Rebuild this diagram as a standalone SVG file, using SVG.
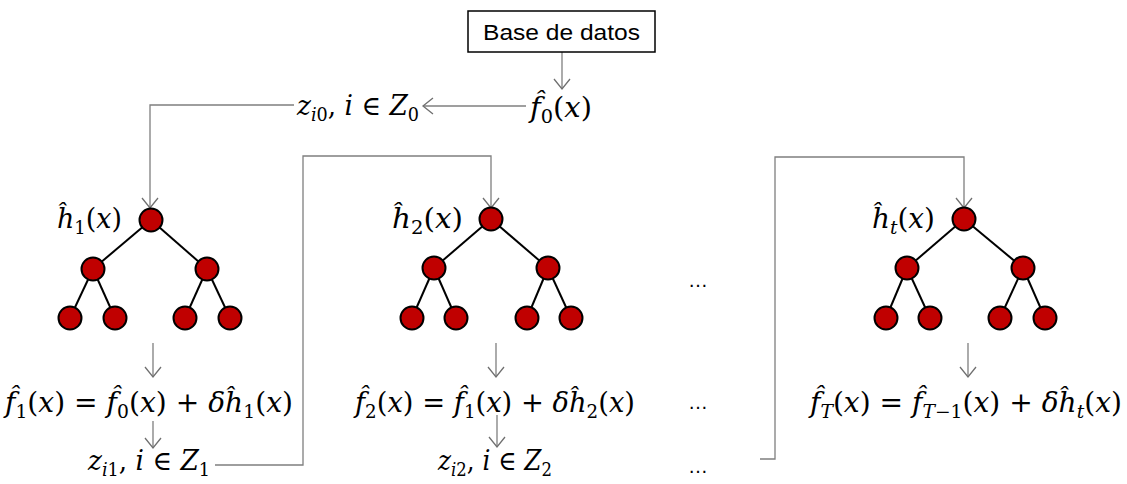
<svg xmlns="http://www.w3.org/2000/svg" width="1127" height="484" viewBox="0 0 1127 484">
<style>
.bg{fill:#ffffff}
.box{fill:#ffffff;stroke:#000000;stroke-width:1.5}
.lbl{font-family:"Liberation Sans",Arial,sans-serif;font-size:22px;fill:#000}
.m{font-family:"DejaVu Serif","Liberation Serif",serif;font-size:27px;fill:#000}
.i{font-style:italic}
.s{font-size:18px}
.dots{font-family:"Liberation Sans",Arial,sans-serif;font-size:20px;fill:#000}
.con{fill:none;stroke:#7f7f7f;stroke-width:1.3}
.edge{stroke:#000;stroke-width:2}
.nd{fill:#c00000;stroke:#000;stroke-width:2}
</style>
<defs>
<marker id="arr" markerUnits="userSpaceOnUse" markerWidth="14" markerHeight="20" refX="12" refY="10" orient="auto" viewBox="0 0 14 20">
<path d="M2,2 L12,10 L2,18" fill="none" stroke="#6f6f6f" stroke-width="1.3"/>
</marker>
</defs>
<rect class="bg" x="0" y="0" width="1127" height="484"/>

<g id="connectors">
<line class="con" x1="562" y1="52" x2="562" y2="89" marker-end="url(#arr)"/>
<line class="con" x1="526" y1="106" x2="423" y2="106" marker-end="url(#arr)"/>
<polyline class="con" points="294,105 150,105 150,208" marker-end="url(#arr)"/>
<line class="con" x1="153" y1="343" x2="153" y2="377" marker-end="url(#arr)"/>
<line class="con" x1="153" y1="421" x2="153" y2="448" marker-end="url(#arr)"/>
<polyline class="con" points="215,465 303,465 303,156 491,156 491,208" marker-end="url(#arr)"/>
<line class="con" x1="496" y1="343" x2="496" y2="377" marker-end="url(#arr)"/>
<line class="con" x1="497" y1="415" x2="497" y2="447" marker-end="url(#arr)"/>
<polyline class="con" points="760,459 775,459 775,157 964,157 964,208" marker-end="url(#arr)"/>
<line class="con" x1="968" y1="343" x2="968" y2="377" marker-end="url(#arr)"/>
</g>

<g id="base-datos">
<rect class="box" x="468" y="11" width="187" height="41"/>
<text class="lbl" x="483" y="40" textLength="157" lengthAdjust="spacingAndGlyphs">Base de datos</text>
</g>

<g id="f0">
<text class="m" x="530" y="117" textLength="62" lengthAdjust="spacingAndGlyphs"><tspan class="i">f̂</tspan><tspan class="s" dy="6">0</tspan><tspan dy="-6">(</tspan><tspan class="i">x</tspan>)</text>
</g>

<g id="z0">
<text class="m" x="297" y="115" textLength="122" lengthAdjust="spacingAndGlyphs"><tspan class="i">z</tspan><tspan class="s" dy="6"><tspan class="i">i</tspan>0</tspan><tspan dy="-6">, </tspan><tspan class="i">i</tspan> ∈ <tspan class="i">Z</tspan><tspan class="s" dy="6">0</tspan></text>
</g>

<g id="tree1">
<text class="m" x="57" y="228" textLength="65" lengthAdjust="spacingAndGlyphs"><tspan class="i">ĥ</tspan><tspan class="s" dy="6">1</tspan><tspan dy="-6">(</tspan><tspan class="i">x</tspan>)</text>
<line class="edge" x1="151" y1="220" x2="93" y2="269"/>
<line class="edge" x1="151" y1="220" x2="207" y2="269"/>
<line class="edge" x1="93" y1="269" x2="70" y2="318"/>
<line class="edge" x1="93" y1="269" x2="115" y2="318"/>
<line class="edge" x1="207" y1="269" x2="185" y2="318"/>
<line class="edge" x1="207" y1="269" x2="230" y2="318"/>
<circle class="nd" cx="151" cy="220" r="11.5"/>
<circle class="nd" cx="93" cy="269" r="11.5"/>
<circle class="nd" cx="207" cy="269" r="11.5"/>
<circle class="nd" cx="70" cy="318" r="11.5"/>
<circle class="nd" cx="115" cy="318" r="11.5"/>
<circle class="nd" cx="185" cy="318" r="11.5"/>
<circle class="nd" cx="230" cy="318" r="11.5"/>
</g>

<g id="tree2">
<text class="m" x="392" y="228" textLength="71" lengthAdjust="spacingAndGlyphs"><tspan class="i">ĥ</tspan><tspan class="s" dy="6">2</tspan><tspan dy="-6">(</tspan><tspan class="i">x</tspan>)</text>
<line class="edge" x1="491" y1="219" x2="434" y2="268"/>
<line class="edge" x1="491" y1="219" x2="548" y2="268"/>
<line class="edge" x1="434" y1="268" x2="412" y2="318"/>
<line class="edge" x1="434" y1="268" x2="456" y2="318"/>
<line class="edge" x1="548" y1="268" x2="527" y2="318"/>
<line class="edge" x1="548" y1="268" x2="571" y2="318"/>
<circle class="nd" cx="491" cy="219" r="11.5"/>
<circle class="nd" cx="434" cy="268" r="11.5"/>
<circle class="nd" cx="548" cy="268" r="11.5"/>
<circle class="nd" cx="412" cy="318" r="11.5"/>
<circle class="nd" cx="456" cy="318" r="11.5"/>
<circle class="nd" cx="527" cy="318" r="11.5"/>
<circle class="nd" cx="571" cy="318" r="11.5"/>
</g>

<g id="treet">
<text class="m" x="872" y="228" textLength="63" lengthAdjust="spacingAndGlyphs"><tspan class="i">ĥ</tspan><tspan class="s i" dy="6">t</tspan><tspan dy="-6">(</tspan><tspan class="i">x</tspan>)</text>
<line class="edge" x1="964" y1="219" x2="907" y2="268"/>
<line class="edge" x1="964" y1="219" x2="1023" y2="268"/>
<line class="edge" x1="907" y1="268" x2="886" y2="318"/>
<line class="edge" x1="907" y1="268" x2="930" y2="318"/>
<line class="edge" x1="1023" y1="268" x2="1000" y2="318"/>
<line class="edge" x1="1023" y1="268" x2="1045" y2="318"/>
<circle class="nd" cx="964" cy="219" r="11.5"/>
<circle class="nd" cx="907" cy="268" r="11.5"/>
<circle class="nd" cx="1023" cy="268" r="11.5"/>
<circle class="nd" cx="886" cy="318" r="11.5"/>
<circle class="nd" cx="930" cy="318" r="11.5"/>
<circle class="nd" cx="1000" cy="318" r="11.5"/>
<circle class="nd" cx="1045" cy="318" r="11.5"/>
</g>

<g id="f1">
<text class="m" x="5" y="412" textLength="288" lengthAdjust="spacingAndGlyphs"><tspan class="i">f̂</tspan><tspan class="s" dy="6">1</tspan><tspan dy="-6">(</tspan><tspan class="i">x</tspan>) = <tspan class="i">f̂</tspan><tspan class="s" dy="6">0</tspan><tspan dy="-6">(</tspan><tspan class="i">x</tspan>) + <tspan class="i">δĥ</tspan><tspan class="s" dy="6">1</tspan><tspan dy="-6">(</tspan><tspan class="i">x</tspan>)</text>
</g>

<g id="z1">
<text class="m" x="88" y="470" textLength="122" lengthAdjust="spacingAndGlyphs"><tspan class="i">z</tspan><tspan class="s" dy="6"><tspan class="i">i</tspan>1</tspan><tspan dy="-6">, </tspan><tspan class="i">i</tspan> ∈ <tspan class="i">Z</tspan><tspan class="s" dy="6">1</tspan></text>
</g>

<g id="f2">
<text class="m" x="355" y="412" textLength="280" lengthAdjust="spacingAndGlyphs"><tspan class="i">f̂</tspan><tspan class="s" dy="6">2</tspan><tspan dy="-6">(</tspan><tspan class="i">x</tspan>) = <tspan class="i">f̂</tspan><tspan class="s" dy="6">1</tspan><tspan dy="-6">(</tspan><tspan class="i">x</tspan>) + <tspan class="i">δĥ</tspan><tspan class="s" dy="6">2</tspan><tspan dy="-6">(</tspan><tspan class="i">x</tspan>)</text>
</g>

<g id="z2">
<text class="m" x="438" y="470" textLength="114" lengthAdjust="spacingAndGlyphs"><tspan class="i">z</tspan><tspan class="s" dy="6"><tspan class="i">i</tspan>2</tspan><tspan dy="-6">, </tspan><tspan class="i">i</tspan> ∈ <tspan class="i">Z</tspan><tspan class="s" dy="6">2</tspan></text>
</g>

<g id="fT">
<text class="m" x="810" y="412" textLength="312" lengthAdjust="spacingAndGlyphs"><tspan class="i">f̂</tspan><tspan class="s i" dy="6">T</tspan><tspan dy="-6">(</tspan><tspan class="i">x</tspan>) = <tspan class="i">f̂</tspan><tspan class="s" dy="6"><tspan class="i">T</tspan>−1</tspan><tspan dy="-6">(</tspan><tspan class="i">x</tspan>) + <tspan class="i">δĥ</tspan><tspan class="s i" dy="6">t</tspan><tspan dy="-6">(</tspan><tspan class="i">x</tspan>)</text>
</g>

<g id="ellipses">
<text class="dots" x="698" y="287" text-anchor="middle" textLength="20" lengthAdjust="spacing">…</text>
<text class="dots" x="698" y="409" text-anchor="middle" textLength="20" lengthAdjust="spacing">…</text>
<text class="dots" x="698" y="473" text-anchor="middle" textLength="20" lengthAdjust="spacing">…</text>
</g>
</svg>
